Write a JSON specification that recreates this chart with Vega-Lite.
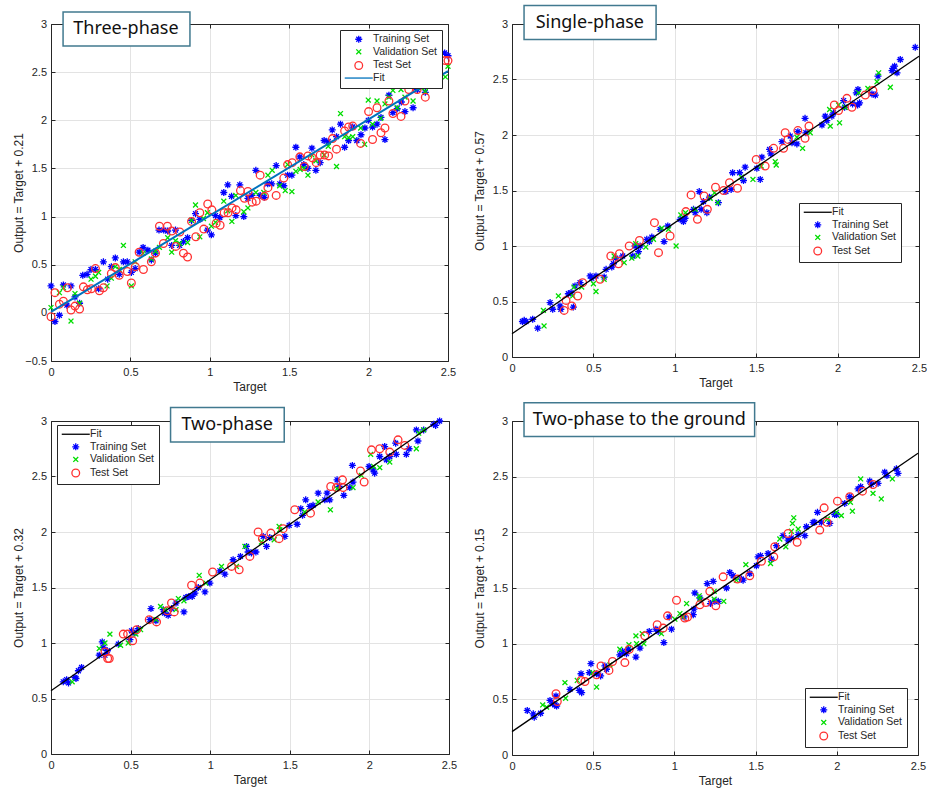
{
"$schema": "https://vega.github.io/schema/vega-lite/v6.json",
"background": "white",
"padding": {"left": 12, "top": 4, "right": 5, "bottom": 5},
"config": {
 "font": "Liberation Sans",
 "view": {"stroke": null},
 "axis": {"labelFont": "Liberation Sans", "labelFontSize": 11, "labelColor": "#262626", "titleFont": "Liberation Sans", "titleFontSize": 12, "titleFontWeight": "normal", "titleColor": "#262626", "gridColor": "#e3e3e3", "gridWidth": 1, "domainColor": "#262626", "domainWidth": 1, "tickColor": "#262626", "tickSize": -4, "tickWidth": 1, "format": "~g", "labelFlush": false, "labelOverlap": false},
 "axisX": {"labelPadding": 9, "titleY": 20},
 "axisY": {"labelPadding": 8.5, "titleX": -26},
 "legend": {"labelFont": "Liberation Sans", "labelFontSize": 10.5, "labelColor": "#262626", "symbolSize": 49, "symbolStrokeWidth": 1.3, "strokeColor": "#262626", "fillColor": "white", "padding": 4, "rowPadding": 0.6, "symbolOffset": 9.5, "labelOffset": 9, "labelLimit": 300, "orient": "none"}
},
"datasets": {
"p1": [
{"set":"Training Set","target":0,"output":0.28},{"set":"Training Set","target":0.025,"output":-0.09},{"set":"Training Set","target":0.053,"output":-0.025},{"set":"Training Set","target":0.078,"output":0.29},{"set":"Training Set","target":0.1,"output":0.08},{"set":"Training Set","target":0.126,"output":0.28},{"set":"Training Set","target":0.151,"output":0.165},{"set":"Training Set","target":0.18,"output":0.1},{"set":"Training Set","target":0.2,"output":0.39},{"set":"Training Set","target":0.227,"output":0.4},{"set":"Training Set","target":0.252,"output":0.45},{"set":"Training Set","target":0.28,"output":0.45},{"set":"Training Set","target":0.3,"output":0.25},{"set":"Training Set","target":0.33,"output":0.53},{"set":"Training Set","target":0.357,"output":0.35},{"set":"Training Set","target":0.38,"output":0.48},{"set":"Training Set","target":0.405,"output":0.57},{"set":"Training Set","target":0.43,"output":0.4},{"set":"Training Set","target":0.456,"output":0.53},{"set":"Training Set","target":0.48,"output":0.53},{"set":"Training Set","target":0.506,"output":0.42},{"set":"Training Set","target":0.53,"output":0.46},{"set":"Training Set","target":0.555,"output":0.63},{"set":"Training Set","target":0.58,"output":0.68},{"set":"Training Set","target":0.61,"output":0.65},{"set":"Training Set","target":0.632,"output":0.55},{"set":"Training Set","target":0.658,"output":0.62},{"set":"Training Set","target":0.68,"output":0.86},{"set":"Training Set","target":0.71,"output":0.86},{"set":"Training Set","target":0.735,"output":0.85},{"set":"Training Set","target":0.76,"output":0.7},{"set":"Training Set","target":0.784,"output":0.86},{"set":"Training Set","target":0.81,"output":0.7},{"set":"Training Set","target":0.834,"output":0.74},{"set":"Training Set","target":0.86,"output":0.78},{"set":"Training Set","target":0.885,"output":0.96},{"set":"Training Set","target":0.91,"output":1.03},{"set":"Training Set","target":0.937,"output":0.97},{"set":"Training Set","target":0.985,"output":0.86},{"set":"Training Set","target":1.01,"output":0.81},{"set":"Training Set","target":1.036,"output":1.01},{"set":"Training Set","target":1.063,"output":0.99},{"set":"Training Set","target":1.088,"output":1.25},{"set":"Training Set","target":1.113,"output":1.33},{"set":"Training Set","target":1.137,"output":1.21},{"set":"Training Set","target":1.164,"output":1.01},{"set":"Training Set","target":1.189,"output":1.33},{"set":"Training Set","target":1.214,"output":1.0},{"set":"Training Set","target":1.24,"output":1.19},{"set":"Training Set","target":1.265,"output":1.22},{"set":"Training Set","target":1.29,"output":1.48},{"set":"Training Set","target":1.317,"output":1.22},{"set":"Training Set","target":1.343,"output":1.2},{"set":"Training Set","target":1.365,"output":1.34},{"set":"Training Set","target":1.39,"output":1.34},{"set":"Training Set","target":1.418,"output":1.53},{"set":"Training Set","target":1.441,"output":1.34},{"set":"Training Set","target":1.466,"output":1.32},{"set":"Training Set","target":1.49,"output":1.43},{"set":"Training Set","target":1.517,"output":1.43},{"set":"Training Set","target":1.542,"output":1.72},{"set":"Training Set","target":1.567,"output":1.62},{"set":"Training Set","target":1.592,"output":1.54},{"set":"Training Set","target":1.618,"output":1.5},{"set":"Training Set","target":1.643,"output":1.71},{"set":"Training Set","target":1.668,"output":1.48},{"set":"Training Set","target":1.695,"output":1.56},{"set":"Training Set","target":1.72,"output":1.79},{"set":"Training Set","target":1.746,"output":1.78},{"set":"Training Set","target":1.771,"output":1.9},{"set":"Training Set","target":1.798,"output":1.83},{"set":"Training Set","target":1.823,"output":1.96},{"set":"Training Set","target":1.849,"output":1.72},{"set":"Training Set","target":1.874,"output":1.79},{"set":"Training Set","target":1.9,"output":1.93},{"set":"Training Set","target":1.926,"output":1.79},{"set":"Training Set","target":1.952,"output":1.85},{"set":"Training Set","target":1.977,"output":1.92},{"set":"Training Set","target":1.998,"output":2.0},{"set":"Training Set","target":2.025,"output":1.93},{"set":"Training Set","target":2.053,"output":1.96},{"set":"Training Set","target":2.078,"output":2.03},{"set":"Training Set","target":2.103,"output":1.8},{"set":"Training Set","target":2.128,"output":2.26},{"set":"Training Set","target":2.153,"output":2.08},{"set":"Training Set","target":2.18,"output":2.12},{"set":"Training Set","target":2.206,"output":2.19},{"set":"Training Set","target":2.229,"output":2.09},{"set":"Training Set","target":2.28,"output":2.13},{"set":"Training Set","target":2.307,"output":2.32},{"set":"Training Set","target":2.357,"output":2.29},{"set":"Training Set","target":2.479,"output":2.7},{"set":"Training Set","target":2.5,"output":2.67},
{"set":"Validation Set","target":0,"output":0.055},{"set":"Validation Set","target":0.053,"output":0.21},{"set":"Validation Set","target":0.078,"output":0.26},{"set":"Validation Set","target":0.126,"output":-0.085},{"set":"Validation Set","target":0.151,"output":0.2},{"set":"Validation Set","target":0.18,"output":0.1},{"set":"Validation Set","target":0.252,"output":0.35},{"set":"Validation Set","target":0.28,"output":0.38},{"set":"Validation Set","target":0.3,"output":0.42},{"set":"Validation Set","target":0.353,"output":0.28},{"set":"Validation Set","target":0.38,"output":0.36},{"set":"Validation Set","target":0.405,"output":0.48},{"set":"Validation Set","target":0.43,"output":0.45},{"set":"Validation Set","target":0.456,"output":0.7},{"set":"Validation Set","target":0.506,"output":0.28},{"set":"Validation Set","target":0.53,"output":0.53},{"set":"Validation Set","target":0.58,"output":0.62},{"set":"Validation Set","target":0.632,"output":0.56},{"set":"Validation Set","target":0.658,"output":0.64},{"set":"Validation Set","target":0.683,"output":0.68},{"set":"Validation Set","target":0.735,"output":0.78},{"set":"Validation Set","target":0.76,"output":0.63},{"set":"Validation Set","target":0.784,"output":0.75},{"set":"Validation Set","target":0.81,"output":0.72},{"set":"Validation Set","target":0.86,"output":0.73},{"set":"Validation Set","target":0.885,"output":0.96},{"set":"Validation Set","target":0.91,"output":1.12},{"set":"Validation Set","target":0.937,"output":0.79},{"set":"Validation Set","target":0.96,"output":0.98},{"set":"Validation Set","target":0.985,"output":1.04},{"set":"Validation Set","target":1.01,"output":0.9},{"set":"Validation Set","target":1.036,"output":0.94},{"set":"Validation Set","target":1.088,"output":1.16},{"set":"Validation Set","target":1.113,"output":1.06},{"set":"Validation Set","target":1.139,"output":0.95},{"set":"Validation Set","target":1.164,"output":1.22},{"set":"Validation Set","target":1.214,"output":1.05},{"set":"Validation Set","target":1.24,"output":1.09},{"set":"Validation Set","target":1.29,"output":1.25},{"set":"Validation Set","target":1.34,"output":1.25},{"set":"Validation Set","target":1.366,"output":1.43},{"set":"Validation Set","target":1.393,"output":1.48},{"set":"Validation Set","target":1.44,"output":1.32},{"set":"Validation Set","target":1.475,"output":1.27},{"set":"Validation Set","target":1.49,"output":1.54},{"set":"Validation Set","target":1.517,"output":1.26},{"set":"Validation Set","target":1.542,"output":1.47},{"set":"Validation Set","target":1.569,"output":1.49},{"set":"Validation Set","target":1.592,"output":1.5},{"set":"Validation Set","target":1.618,"output":1.43},{"set":"Validation Set","target":1.643,"output":1.64},{"set":"Validation Set","target":1.668,"output":1.58},{"set":"Validation Set","target":1.72,"output":1.64},{"set":"Validation Set","target":1.746,"output":1.73},{"set":"Validation Set","target":1.798,"output":1.52},{"set":"Validation Set","target":1.823,"output":2.07},{"set":"Validation Set","target":1.849,"output":1.83},{"set":"Validation Set","target":1.874,"output":1.82},{"set":"Validation Set","target":1.9,"output":1.83},{"set":"Validation Set","target":1.95,"output":1.92},{"set":"Validation Set","target":1.975,"output":1.75},{"set":"Validation Set","target":1.998,"output":2.21},{"set":"Validation Set","target":2.025,"output":1.96},{"set":"Validation Set","target":2.053,"output":2.2},{"set":"Validation Set","target":2.076,"output":2.02},{"set":"Validation Set","target":2.103,"output":2.17},{"set":"Validation Set","target":2.128,"output":2.24},{"set":"Validation Set","target":2.153,"output":2.31},{"set":"Validation Set","target":2.18,"output":2.13},{"set":"Validation Set","target":2.204,"output":2.32},{"set":"Validation Set","target":2.229,"output":2.24},{"set":"Validation Set","target":2.28,"output":2.2},{"set":"Validation Set","target":2.33,"output":2.34},{"set":"Validation Set","target":2.357,"output":2.3},{"set":"Validation Set","target":2.483,"output":2.45},{"set":"Validation Set","target":2.5,"output":2.56},
{"set":"Test Set","target":0,"output":-0.04},{"set":"Test Set","target":0.025,"output":0.21},{"set":"Test Set","target":0.053,"output":0.09},{"set":"Test Set","target":0.078,"output":0.12},{"set":"Test Set","target":0.103,"output":0.26},{"set":"Test Set","target":0.126,"output":0.03},{"set":"Test Set","target":0.151,"output":0.07},{"set":"Test Set","target":0.18,"output":0.04},{"set":"Test Set","target":0.204,"output":0.27},{"set":"Test Set","target":0.229,"output":0.24},{"set":"Test Set","target":0.254,"output":0.25},{"set":"Test Set","target":0.28,"output":0.46},{"set":"Test Set","target":0.305,"output":0.23},{"set":"Test Set","target":0.33,"output":0.26},{"set":"Test Set","target":0.38,"output":0.41},{"set":"Test Set","target":0.405,"output":0.47},{"set":"Test Set","target":0.43,"output":0.39},{"set":"Test Set","target":0.481,"output":0.43},{"set":"Test Set","target":0.506,"output":0.31},{"set":"Test Set","target":0.531,"output":0.48},{"set":"Test Set","target":0.555,"output":0.63},{"set":"Test Set","target":0.582,"output":0.45},{"set":"Test Set","target":0.632,"output":0.53},{"set":"Test Set","target":0.658,"output":0.62},{"set":"Test Set","target":0.683,"output":0.9},{"set":"Test Set","target":0.708,"output":0.72},{"set":"Test Set","target":0.733,"output":0.9},{"set":"Test Set","target":0.76,"output":0.85},{"set":"Test Set","target":0.786,"output":0.69},{"set":"Test Set","target":0.811,"output":0.84},{"set":"Test Set","target":0.834,"output":0.62},{"set":"Test Set","target":0.86,"output":0.58},{"set":"Test Set","target":0.885,"output":0.95},{"set":"Test Set","target":0.912,"output":0.79},{"set":"Test Set","target":0.937,"output":1.04},{"set":"Test Set","target":0.962,"output":0.87},{"set":"Test Set","target":0.987,"output":1.13},{"set":"Test Set","target":1.013,"output":1.07},{"set":"Test Set","target":1.04,"output":0.93},{"set":"Test Set","target":1.065,"output":0.91},{"set":"Test Set","target":1.09,"output":1.04},{"set":"Test Set","target":1.115,"output":1.04},{"set":"Test Set","target":1.14,"output":1.09},{"set":"Test Set","target":1.166,"output":1.07},{"set":"Test Set","target":1.193,"output":1.27},{"set":"Test Set","target":1.218,"output":1.19},{"set":"Test Set","target":1.24,"output":1.26},{"set":"Test Set","target":1.267,"output":1.15},{"set":"Test Set","target":1.292,"output":1.16},{"set":"Test Set","target":1.317,"output":1.43},{"set":"Test Set","target":1.345,"output":1.21},{"set":"Test Set","target":1.366,"output":1.3},{"set":"Test Set","target":1.418,"output":1.22},{"set":"Test Set","target":1.466,"output":1.4},{"set":"Test Set","target":1.49,"output":1.54},{"set":"Test Set","target":1.519,"output":1.56},{"set":"Test Set","target":1.567,"output":1.62},{"set":"Test Set","target":1.595,"output":1.52},{"set":"Test Set","target":1.618,"output":1.63},{"set":"Test Set","target":1.645,"output":1.61},{"set":"Test Set","target":1.67,"output":1.56},{"set":"Test Set","target":1.695,"output":1.64},{"set":"Test Set","target":1.723,"output":1.64},{"set":"Test Set","target":1.748,"output":1.63},{"set":"Test Set","target":1.773,"output":1.81},{"set":"Test Set","target":1.798,"output":1.7},{"set":"Test Set","target":1.849,"output":1.89},{"set":"Test Set","target":1.874,"output":1.93},{"set":"Test Set","target":1.9,"output":1.94},{"set":"Test Set","target":1.95,"output":1.76},{"set":"Test Set","target":2.0,"output":2.09},{"set":"Test Set","target":2.025,"output":1.8},{"set":"Test Set","target":2.053,"output":2.13},{"set":"Test Set","target":2.078,"output":1.87},{"set":"Test Set","target":2.103,"output":1.92},{"set":"Test Set","target":2.128,"output":2.2},{"set":"Test Set","target":2.153,"output":2.07},{"set":"Test Set","target":2.204,"output":2.04},{"set":"Test Set","target":2.229,"output":2.2},{"set":"Test Set","target":2.253,"output":2.32},{"set":"Test Set","target":2.306,"output":2.32},{"set":"Test Set","target":2.357,"output":2.24},{"set":"Test Set","target":2.483,"output":2.62},{"set":"Test Set","target":2.5,"output":2.62},
{"set":"Fit","target":0,"output":0.01},{"set":"Fit","target":2.5,"output":2.51}
],
"p2": [
{"set":"Training Set","target":0.064,"output":0.32},{"set":"Training Set","target":0.075,"output":0.33},{"set":"Training Set","target":0.086,"output":0.32},{"set":"Training Set","target":0.127,"output":0.34},{"set":"Training Set","target":0.158,"output":0.26},{"set":"Training Set","target":0.234,"output":0.49},{"set":"Training Set","target":0.25,"output":0.43},{"set":"Training Set","target":0.295,"output":0.46},{"set":"Training Set","target":0.3,"output":0.43},{"set":"Training Set","target":0.346,"output":0.57},{"set":"Training Set","target":0.363,"output":0.58},{"set":"Training Set","target":0.377,"output":0.45},{"set":"Training Set","target":0.387,"output":0.64},{"set":"Training Set","target":0.418,"output":0.67},{"set":"Training Set","target":0.48,"output":0.73},{"set":"Training Set","target":0.49,"output":0.71},{"set":"Training Set","target":0.516,"output":0.73},{"set":"Training Set","target":0.566,"output":0.72},{"set":"Training Set","target":0.578,"output":0.79},{"set":"Training Set","target":0.613,"output":0.81},{"set":"Training Set","target":0.623,"output":0.84},{"set":"Training Set","target":0.637,"output":0.89},{"set":"Training Set","target":0.68,"output":0.91},{"set":"Training Set","target":0.742,"output":0.91},{"set":"Training Set","target":0.756,"output":1.0},{"set":"Training Set","target":0.777,"output":0.95},{"set":"Training Set","target":0.787,"output":1.0},{"set":"Training Set","target":0.828,"output":1.06},{"set":"Training Set","target":0.844,"output":1.04},{"set":"Training Set","target":0.859,"output":1.08},{"set":"Training Set","target":0.91,"output":1.15},{"set":"Training Set","target":0.934,"output":1.04},{"set":"Training Set","target":0.957,"output":1.18},{"set":"Training Set","target":1.033,"output":1.24},{"set":"Training Set","target":1.053,"output":1.22},{"set":"Training Set","target":1.063,"output":1.25},{"set":"Training Set","target":1.115,"output":1.33},{"set":"Training Set","target":1.125,"output":1.3},{"set":"Training Set","target":1.15,"output":1.49},{"set":"Training Set","target":1.162,"output":1.33},{"set":"Training Set","target":1.176,"output":1.4},{"set":"Training Set","target":1.197,"output":1.3},{"set":"Training Set","target":1.213,"output":1.44},{"set":"Training Set","target":1.268,"output":1.39},{"set":"Training Set","target":1.314,"output":1.49},{"set":"Training Set","target":1.346,"output":1.51},{"set":"Training Set","target":1.355,"output":1.66},{"set":"Training Set","target":1.398,"output":1.66},{"set":"Training Set","target":1.422,"output":1.59},{"set":"Training Set","target":1.432,"output":1.71},{"set":"Training Set","target":1.504,"output":1.7},{"set":"Training Set","target":1.525,"output":1.6},{"set":"Training Set","target":1.535,"output":1.8},{"set":"Training Set","target":1.582,"output":1.87},{"set":"Training Set","target":1.59,"output":1.83},{"set":"Training Set","target":1.658,"output":1.94},{"set":"Training Set","target":1.709,"output":1.99},{"set":"Training Set","target":1.72,"output":1.93},{"set":"Training Set","target":1.75,"output":1.92},{"set":"Training Set","target":1.756,"output":2.03},{"set":"Training Set","target":1.8,"output":2.15},{"set":"Training Set","target":1.805,"output":2.02},{"set":"Training Set","target":1.904,"output":2.09},{"set":"Training Set","target":1.924,"output":2.17},{"set":"Training Set","target":1.934,"output":2.13},{"set":"Training Set","target":1.965,"output":2.17},{"set":"Training Set","target":1.975,"output":2.2},{"set":"Training Set","target":2.037,"output":2.31},{"set":"Training Set","target":2.043,"output":2.25},{"set":"Training Set","target":2.092,"output":2.28},{"set":"Training Set","target":2.115,"output":2.38},{"set":"Training Set","target":2.125,"output":2.41},{"set":"Training Set","target":2.123,"output":2.27},{"set":"Training Set","target":2.135,"output":2.29},{"set":"Training Set","target":2.211,"output":2.37},{"set":"Training Set","target":2.232,"output":2.36},{"set":"Training Set","target":2.248,"output":2.53},{"set":"Training Set","target":2.334,"output":2.58},{"set":"Training Set","target":2.34,"output":2.6},{"set":"Training Set","target":2.35,"output":2.62},{"set":"Training Set","target":2.365,"output":2.56},{"set":"Training Set","target":2.385,"output":2.68},{"set":"Training Set","target":2.477,"output":2.79},
{"set":"Validation Set","target":0.197,"output":0.28},{"set":"Validation Set","target":0.193,"output":0.42},{"set":"Validation Set","target":0.285,"output":0.55},{"set":"Validation Set","target":0.373,"output":0.55},{"set":"Validation Set","target":0.381,"output":0.63},{"set":"Validation Set","target":0.428,"output":0.63},{"set":"Validation Set","target":0.5,"output":0.66},{"set":"Validation Set","target":0.516,"output":0.59},{"set":"Validation Set","target":0.566,"output":0.7},{"set":"Validation Set","target":0.627,"output":0.91},{"set":"Validation Set","target":0.689,"output":0.85},{"set":"Validation Set","target":0.736,"output":0.89},{"set":"Validation Set","target":0.76,"output":1.02},{"set":"Validation Set","target":0.773,"output":0.91},{"set":"Validation Set","target":0.822,"output":0.99},{"set":"Validation Set","target":0.869,"output":1.06},{"set":"Validation Set","target":0.92,"output":1.16},{"set":"Validation Set","target":0.961,"output":1.15},{"set":"Validation Set","target":1.008,"output":1.0},{"set":"Validation Set","target":1.037,"output":1.28},{"set":"Validation Set","target":1.066,"output":1.3},{"set":"Validation Set","target":1.125,"output":1.33},{"set":"Validation Set","target":1.217,"output":1.43},{"set":"Validation Set","target":1.244,"output":1.48},{"set":"Validation Set","target":1.264,"output":1.39},{"set":"Validation Set","target":1.41,"output":1.62},{"set":"Validation Set","target":1.48,"output":1.6},{"set":"Validation Set","target":1.531,"output":1.72},{"set":"Validation Set","target":1.617,"output":1.76},{"set":"Validation Set","target":1.623,"output":1.73},{"set":"Validation Set","target":1.75,"output":1.98},{"set":"Validation Set","target":1.785,"output":1.88},{"set":"Validation Set","target":1.832,"output":2.02},{"set":"Validation Set","target":1.951,"output":2.23},{"set":"Validation Set","target":1.955,"output":2.08},{"set":"Validation Set","target":2.006,"output":2.27},{"set":"Validation Set","target":2.012,"output":2.11},{"set":"Validation Set","target":2.047,"output":2.25},{"set":"Validation Set","target":2.129,"output":2.38},{"set":"Validation Set","target":2.186,"output":2.42},{"set":"Validation Set","target":2.242,"output":2.48},{"set":"Validation Set","target":2.252,"output":2.56},{"set":"Validation Set","target":2.324,"output":2.43},
{"set":"Test Set","target":0.32,"output":0.42},{"set":"Test Set","target":0.332,"output":0.51},{"set":"Test Set","target":0.367,"output":0.46},{"set":"Test Set","target":0.404,"output":0.55},{"set":"Test Set","target":0.434,"output":0.67},{"set":"Test Set","target":0.541,"output":0.7},{"set":"Test Set","target":0.607,"output":0.91},{"set":"Test Set","target":0.654,"output":0.84},{"set":"Test Set","target":0.66,"output":0.93},{"set":"Test Set","target":0.72,"output":1.0},{"set":"Test Set","target":0.783,"output":1.05},{"set":"Test Set","target":0.875,"output":1.21},{"set":"Test Set","target":0.9,"output":0.94},{"set":"Test Set","target":0.971,"output":1.09},{"set":"Test Set","target":1.068,"output":1.31},{"set":"Test Set","target":1.1,"output":1.46},{"set":"Test Set","target":1.139,"output":1.24},{"set":"Test Set","target":1.18,"output":1.45},{"set":"Test Set","target":1.2,"output":1.33},{"set":"Test Set","target":1.25,"output":1.53},{"set":"Test Set","target":1.3,"output":1.5},{"set":"Test Set","target":1.336,"output":1.57},{"set":"Test Set","target":1.385,"output":1.52},{"set":"Test Set","target":1.5,"output":1.78},{"set":"Test Set","target":1.555,"output":1.72},{"set":"Test Set","target":1.607,"output":1.88},{"set":"Test Set","target":1.668,"output":1.88},{"set":"Test Set","target":1.678,"output":2.02},{"set":"Test Set","target":1.695,"output":1.96},{"set":"Test Set","target":1.756,"output":2.04},{"set":"Test Set","target":1.8,"output":1.97},{"set":"Test Set","target":1.824,"output":2.08},{"set":"Test Set","target":1.98,"output":2.27},{"set":"Test Set","target":2.006,"output":2.22},{"set":"Test Set","target":2.057,"output":2.33},{"set":"Test Set","target":2.088,"output":2.25},{"set":"Test Set","target":2.17,"output":2.36},{"set":"Test Set","target":2.217,"output":2.4},
{"set":"Fit","target":0,"output":0.21},{"set":"Fit","target":2.5,"output":2.71}
],
"p3": [
{"set":"Training Set","target":0.077,"output":0.65},{"set":"Training Set","target":0.098,"output":0.67},{"set":"Training Set","target":0.11,"output":0.64},{"set":"Training Set","target":0.15,"output":0.69},{"set":"Training Set","target":0.157,"output":0.68},{"set":"Training Set","target":0.172,"output":0.75},{"set":"Training Set","target":0.192,"output":0.78},{"set":"Training Set","target":0.303,"output":0.89},{"set":"Training Set","target":0.322,"output":1.01},{"set":"Training Set","target":0.328,"output":0.96},{"set":"Training Set","target":0.339,"output":0.89},{"set":"Training Set","target":0.354,"output":0.93},{"set":"Training Set","target":0.423,"output":0.99},{"set":"Training Set","target":0.496,"output":1.03},{"set":"Training Set","target":0.506,"output":1.11},{"set":"Training Set","target":0.527,"output":1.09},{"set":"Training Set","target":0.548,"output":1.13},{"set":"Training Set","target":0.621,"output":1.21},{"set":"Training Set","target":0.628,"output":1.31},{"set":"Training Set","target":0.659,"output":1.2},{"set":"Training Set","target":0.705,"output":1.3},{"set":"Training Set","target":0.713,"output":1.27},{"set":"Training Set","target":0.736,"output":1.25},{"set":"Training Set","target":0.757,"output":1.31},{"set":"Training Set","target":0.785,"output":1.36},{"set":"Training Set","target":0.835,"output":1.28},{"set":"Training Set","target":0.847,"output":1.41},{"set":"Training Set","target":0.866,"output":1.42},{"set":"Training Set","target":0.887,"output":1.42},{"set":"Training Set","target":0.904,"output":1.45},{"set":"Training Set","target":0.925,"output":1.5},{"set":"Training Set","target":0.967,"output":1.46},{"set":"Training Set","target":0.998,"output":1.54},{"set":"Training Set","target":1.061,"output":1.65},{"set":"Training Set","target":1.092,"output":1.62},{"set":"Training Set","target":1.144,"output":1.75},{"set":"Training Set","target":1.19,"output":1.78},{"set":"Training Set","target":1.228,"output":1.87},{"set":"Training Set","target":1.238,"output":1.82},{"set":"Training Set","target":1.259,"output":1.81},{"set":"Training Set","target":1.287,"output":1.82},{"set":"Training Set","target":1.333,"output":1.96},{"set":"Training Set","target":1.354,"output":1.87},{"set":"Training Set","target":1.374,"output":1.95},{"set":"Training Set","target":1.469,"output":1.96},{"set":"Training Set","target":1.496,"output":2.06},{"set":"Training Set","target":1.546,"output":2.07},{"set":"Training Set","target":1.569,"output":2.21},{"set":"Training Set","target":1.58,"output":2.15},{"set":"Training Set","target":1.6,"output":2.29},{"set":"Training Set","target":1.626,"output":2.23},{"set":"Training Set","target":1.646,"output":2.24},{"set":"Training Set","target":1.678,"output":2.35},{"set":"Training Set","target":1.72,"output":2.29},{"set":"Training Set","target":1.734,"output":2.35},{"set":"Training Set","target":1.751,"output":2.29},{"set":"Training Set","target":1.797,"output":2.47},{"set":"Training Set","target":1.81,"output":2.41},{"set":"Training Set","target":1.839,"output":2.33},{"set":"Training Set","target":1.877,"output":2.4},{"set":"Training Set","target":1.893,"output":2.6},{"set":"Training Set","target":1.897,"output":2.45},{"set":"Training Set","target":1.998,"output":2.59},{"set":"Training Set","target":2.023,"output":2.56},{"set":"Training Set","target":2.033,"output":2.53},{"set":"Training Set","target":2.065,"output":2.68},{"set":"Training Set","target":2.096,"output":2.77},{"set":"Training Set","target":2.107,"output":2.65},{"set":"Training Set","target":2.128,"output":2.68},{"set":"Training Set","target":2.165,"output":2.8},{"set":"Training Set","target":2.169,"output":2.7},{"set":"Training Set","target":2.232,"output":2.7},{"set":"Training Set","target":2.249,"output":2.75},{"set":"Training Set","target":2.295,"output":2.92},{"set":"Training Set","target":2.305,"output":2.82},{"set":"Training Set","target":2.341,"output":2.92},{"set":"Training Set","target":2.404,"output":2.97},{"set":"Training Set","target":2.416,"output":2.96},{"set":"Training Set","target":2.441,"output":3.0},
{"set":"Validation Set","target":0.133,"output":0.65},{"set":"Validation Set","target":0.303,"output":0.95},{"set":"Validation Set","target":0.339,"output":1.0},{"set":"Validation Set","target":0.37,"output":1.08},{"set":"Validation Set","target":0.437,"output":0.98},{"set":"Validation Set","target":0.485,"output":1.0},{"set":"Validation Set","target":0.533,"output":1.08},{"set":"Validation Set","target":0.563,"output":1.12},{"set":"Validation Set","target":0.659,"output":1.21},{"set":"Validation Set","target":0.688,"output":1.33},{"set":"Validation Set","target":0.718,"output":1.3},{"set":"Validation Set","target":0.785,"output":1.3},{"set":"Validation Set","target":0.8,"output":1.4},{"set":"Validation Set","target":0.835,"output":1.38},{"set":"Validation Set","target":0.931,"output":1.61},{"set":"Validation Set","target":0.973,"output":1.54},{"set":"Validation Set","target":1.071,"output":1.69},{"set":"Validation Set","target":1.165,"output":1.69},{"set":"Validation Set","target":1.218,"output":1.87},{"set":"Validation Set","target":1.322,"output":1.91},{"set":"Validation Set","target":1.402,"output":1.93},{"set":"Validation Set","target":1.433,"output":2.05},{"set":"Validation Set","target":1.437,"output":2.02},{"set":"Validation Set","target":1.594,"output":2.18},{"set":"Validation Set","target":1.678,"output":2.27},{"set":"Validation Set","target":1.755,"output":2.2},{"set":"Validation Set","target":1.797,"output":2.39},{"set":"Validation Set","target":1.897,"output":2.4},{"set":"Validation Set","target":1.95,"output":2.51},{"set":"Validation Set","target":2.008,"output":2.7},{"set":"Validation Set","target":2.027,"output":2.59},{"set":"Validation Set","target":2.065,"output":2.58},{"set":"Validation Set","target":2.128,"output":2.63},{"set":"Validation Set","target":2.295,"output":2.75},{"set":"Validation Set","target":2.31,"output":2.89},{"set":"Validation Set","target":2.341,"output":2.92},
{"set":"Test Set","target":0.339,"output":0.92},{"set":"Test Set","target":0.356,"output":0.86},{"set":"Test Set","target":0.366,"output":0.86},{"set":"Test Set","target":0.454,"output":1.08},{"set":"Test Set","target":0.481,"output":1.08},{"set":"Test Set","target":0.513,"output":1.02},{"set":"Test Set","target":0.538,"output":1.12},{"set":"Test Set","target":0.617,"output":1.21},{"set":"Test Set","target":0.663,"output":1.19},{"set":"Test Set","target":0.73,"output":1.29},{"set":"Test Set","target":0.757,"output":1.36},{"set":"Test Set","target":0.774,"output":1.28},{"set":"Test Set","target":0.883,"output":1.52},{"set":"Test Set","target":0.935,"output":1.54},{"set":"Test Set","target":1.015,"output":1.64},{"set":"Test Set","target":1.134,"output":1.69},{"set":"Test Set","target":1.182,"output":1.66},{"set":"Test Set","target":1.249,"output":1.78},{"set":"Test Set","target":1.301,"output":2.0},{"set":"Test Set","target":1.328,"output":1.94},{"set":"Test Set","target":1.381,"output":1.99},{"set":"Test Set","target":1.433,"output":1.94},{"set":"Test Set","target":1.458,"output":2.03},{"set":"Test Set","target":1.531,"output":2.2},{"set":"Test Set","target":1.63,"output":2.17},{"set":"Test Set","target":1.757,"output":2.41},{"set":"Test Set","target":1.793,"output":2.4},{"set":"Test Set","target":1.831,"output":2.47},{"set":"Test Set","target":1.835,"output":2.4},{"set":"Test Set","target":1.944,"output":2.55},{"set":"Test Set","target":1.967,"output":2.45},{"set":"Test Set","target":2.013,"output":2.74},{"set":"Test Set","target":2.065,"output":2.75},{"set":"Test Set","target":2.128,"output":2.72},{"set":"Test Set","target":2.18,"output":2.83},{"set":"Test Set","target":2.222,"output":2.78},
{"set":"Fit","target":0,"output":0.57},{"set":"Fit","target":2.43,"output":3.0}
],
"p4": [
{"set":"Training Set","target":0.094,"output":0.4},{"set":"Training Set","target":0.131,"output":0.37},{"set":"Training Set","target":0.137,"output":0.34},{"set":"Training Set","target":0.176,"output":0.375},{"set":"Training Set","target":0.234,"output":0.49},{"set":"Training Set","target":0.25,"output":0.46},{"set":"Training Set","target":0.265,"output":0.45},{"set":"Training Set","target":0.271,"output":0.53},{"set":"Training Set","target":0.275,"output":0.44},{"set":"Training Set","target":0.357,"output":0.59},{"set":"Training Set","target":0.425,"output":0.73},{"set":"Training Set","target":0.414,"output":0.58},{"set":"Training Set","target":0.429,"output":0.56},{"set":"Training Set","target":0.486,"output":0.82},{"set":"Training Set","target":0.476,"output":0.74},{"set":"Training Set","target":0.521,"output":0.73},{"set":"Training Set","target":0.546,"output":0.71},{"set":"Training Set","target":0.572,"output":0.8},{"set":"Training Set","target":0.582,"output":0.77},{"set":"Training Set","target":0.664,"output":0.9},{"set":"Training Set","target":0.681,"output":0.93},{"set":"Training Set","target":0.705,"output":0.91},{"set":"Training Set","target":0.716,"output":0.95},{"set":"Training Set","target":0.763,"output":0.88},{"set":"Training Set","target":0.788,"output":0.96},{"set":"Training Set","target":0.845,"output":1.11},{"set":"Training Set","target":0.886,"output":1.13},{"set":"Training Set","target":0.9,"output":1.11},{"set":"Training Set","target":0.935,"output":1.01},{"set":"Training Set","target":0.968,"output":1.24},{"set":"Training Set","target":0.982,"output":1.13},{"set":"Training Set","target":1.06,"output":1.24},{"set":"Training Set","target":1.116,"output":1.26},{"set":"Training Set","target":1.12,"output":1.31},{"set":"Training Set","target":1.126,"output":1.455},{"set":"Training Set","target":1.157,"output":1.41},{"set":"Training Set","target":1.202,"output":1.54},{"set":"Training Set","target":1.222,"output":1.36},{"set":"Training Set","target":1.239,"output":1.56},{"set":"Training Set","target":1.249,"output":1.38},{"set":"Training Set","target":1.27,"output":1.38},{"set":"Training Set","target":1.321,"output":1.5},{"set":"Training Set","target":1.341,"output":1.64},{"set":"Training Set","target":1.362,"output":1.61},{"set":"Training Set","target":1.413,"output":1.58},{"set":"Training Set","target":1.423,"output":1.57},{"set":"Training Set","target":1.464,"output":1.63},{"set":"Training Set","target":1.505,"output":1.7},{"set":"Training Set","target":1.515,"output":1.78},{"set":"Training Set","target":1.53,"output":1.79},{"set":"Training Set","target":1.577,"output":1.81},{"set":"Training Set","target":1.598,"output":1.76},{"set":"Training Set","target":1.628,"output":1.88},{"set":"Training Set","target":1.669,"output":1.97},{"set":"Training Set","target":1.7,"output":1.93},{"set":"Training Set","target":1.72,"output":1.95},{"set":"Training Set","target":1.762,"output":1.98},{"set":"Training Set","target":1.803,"output":1.97},{"set":"Training Set","target":1.813,"output":2.05},{"set":"Training Set","target":1.854,"output":2.09},{"set":"Training Set","target":1.864,"output":2.09},{"set":"Training Set","target":1.881,"output":2.18},{"set":"Training Set","target":1.905,"output":2.09},{"set":"Training Set","target":1.957,"output":2.08},{"set":"Training Set","target":1.987,"output":2.16},{"set":"Training Set","target":1.998,"output":2.16},{"set":"Training Set","target":2.049,"output":2.26},{"set":"Training Set","target":2.08,"output":2.32},{"set":"Training Set","target":2.131,"output":2.39},{"set":"Training Set","target":2.147,"output":2.41},{"set":"Training Set","target":2.203,"output":2.46},{"set":"Training Set","target":2.213,"output":2.43},{"set":"Training Set","target":2.254,"output":2.44},{"set":"Training Set","target":2.295,"output":2.54},{"set":"Training Set","target":2.309,"output":2.51},{"set":"Training Set","target":2.367,"output":2.57},{"set":"Training Set","target":2.377,"output":2.53},
{"set":"Validation Set","target":0.189,"output":0.45},{"set":"Validation Set","target":0.213,"output":0.43},{"set":"Validation Set","target":0.326,"output":0.65},{"set":"Validation Set","target":0.33,"output":0.51},{"set":"Validation Set","target":0.402,"output":0.67},{"set":"Validation Set","target":0.496,"output":0.74},{"set":"Validation Set","target":0.521,"output":0.61},{"set":"Validation Set","target":0.603,"output":0.81},{"set":"Validation Set","target":0.664,"output":0.95},{"set":"Validation Set","target":0.72,"output":0.99},{"set":"Validation Set","target":0.763,"output":1.07},{"set":"Validation Set","target":0.767,"output":1.0},{"set":"Validation Set","target":0.802,"output":1.09},{"set":"Validation Set","target":0.812,"output":1.0},{"set":"Validation Set","target":0.92,"output":1.09},{"set":"Validation Set","target":1.003,"output":1.22},{"set":"Validation Set","target":1.034,"output":1.27},{"set":"Validation Set","target":1.054,"output":1.24},{"set":"Validation Set","target":1.075,"output":1.36},{"set":"Validation Set","target":1.157,"output":1.4},{"set":"Validation Set","target":1.153,"output":1.43},{"set":"Validation Set","target":1.245,"output":1.4},{"set":"Validation Set","target":1.245,"output":1.47},{"set":"Validation Set","target":1.304,"output":1.38},{"set":"Validation Set","target":1.382,"output":1.57},{"set":"Validation Set","target":1.44,"output":1.71},{"set":"Validation Set","target":1.592,"output":1.72},{"set":"Validation Set","target":1.649,"output":1.94},{"set":"Validation Set","target":1.686,"output":1.87},{"set":"Validation Set","target":1.72,"output":2.01},{"set":"Validation Set","target":1.727,"output":2.08},{"set":"Validation Set","target":1.735,"output":2.13},{"set":"Validation Set","target":1.762,"output":2.03},{"set":"Validation Set","target":1.942,"output":2.12},{"set":"Validation Set","target":1.998,"output":2.18},{"set":"Validation Set","target":2.028,"output":2.15},{"set":"Validation Set","target":2.084,"output":2.27},{"set":"Validation Set","target":2.096,"output":2.19},{"set":"Validation Set","target":2.147,"output":2.48},{"set":"Validation Set","target":2.223,"output":2.35},{"set":"Validation Set","target":2.274,"output":2.3},{"set":"Validation Set","target":2.342,"output":2.48},
{"set":"Test Set","target":0.271,"output":0.55},{"set":"Test Set","target":0.279,"output":0.48},{"set":"Test Set","target":0.425,"output":0.67},{"set":"Test Set","target":0.449,"output":0.66},{"set":"Test Set","target":0.521,"output":0.72},{"set":"Test Set","target":0.548,"output":0.8},{"set":"Test Set","target":0.597,"output":0.76},{"set":"Test Set","target":0.619,"output":0.84},{"set":"Test Set","target":0.695,"output":0.83},{"set":"Test Set","target":0.722,"output":0.95},{"set":"Test Set","target":0.818,"output":1.07},{"set":"Test Set","target":0.894,"output":1.17},{"set":"Test Set","target":0.931,"output":1.14},{"set":"Test Set","target":0.958,"output":1.25},{"set":"Test Set","target":1.013,"output":1.39},{"set":"Test Set","target":1.064,"output":1.23},{"set":"Test Set","target":1.081,"output":1.24},{"set":"Test Set","target":1.157,"output":1.35},{"set":"Test Set","target":1.194,"output":1.37},{"set":"Test Set","target":1.255,"output":1.34},{"set":"Test Set","target":1.218,"output":1.47},{"set":"Test Set","target":1.3,"output":1.6},{"set":"Test Set","target":1.388,"output":1.58},{"set":"Test Set","target":1.464,"output":1.61},{"set":"Test Set","target":1.536,"output":1.74},{"set":"Test Set","target":1.612,"output":1.78},{"set":"Test Set","target":1.618,"output":1.87},{"set":"Test Set","target":1.7,"output":1.99},{"set":"Test Set","target":1.756,"output":1.91},{"set":"Test Set","target":1.895,"output":2.02},{"set":"Test Set","target":1.922,"output":2.22},{"set":"Test Set","target":1.94,"output":2.09},{"set":"Test Set","target":2.004,"output":2.28},{"set":"Test Set","target":2.08,"output":2.32},{"set":"Test Set","target":2.158,"output":2.37},{"set":"Test Set","target":2.223,"output":2.43},
{"set":"Fit","target":0,"output":0.21},{"set":"Fit","target":2.5,"output":2.71}
]
},
"columns": 2,
"bounds": "flush",
"spacing": {"row": 60, "column": 63},
"concat": [
{
 "width": 397, "height": 337,
 "layer": [
  {"data": {"name": "p1"}, "transform": [{"filter": "datum.set !== 'Fit'"}],
   "mark": {"type": "point", "filled": false, "size": 49, "strokeWidth": 1.3, "opacity": 1},
   "encoding": {
    "x": {"field": "target", "type": "quantitative", "scale": {"domain": [0, 2.5], "nice": false, "zero": false}, "axis": {"orient": "bottom", "values": [0,0.5,1,1.5,2,2.5], "title": "Target"}},
    "y": {"field": "output", "type": "quantitative", "scale": {"domain": [-0.5, 3], "nice": false, "zero": false}, "axis": {"orient": "left", "values": [-0.5,0,0.5,1,1.5,2,2.5,3], "title": "Output = Target + 0.21"}},
    "color": {"field": "set", "type": "nominal", "scale": {"domain": ["Training Set","Validation Set","Test Set","Fit"], "range": ["#0000FF","#00DD00","#FF3030","#0072BD"]}, "legend": {"title": null, "orient": "none", "legendX": 289, "legendY": 6, "encode": {"symbols": {"update": {"strokeWidth": {"signal": "datum.value === 'Fit' ? 2.2 : 1.3"}}}}}},
    "shape": {"field": "set", "type": "nominal", "scale": {"domain": ["Training Set","Validation Set","Test Set","Fit"], "range": ["M-1,0H1M0,-1V1M-0.7,-0.7L0.7,0.7M-0.7,0.7L0.7,-0.7","M-0.7,-0.7L0.7,0.7M-0.7,0.7L0.7,-0.7","M1.1,0A1.1,1.1,0,1,1,-1.1,0A1.1,1.1,0,1,1,1.1,0Z","M-4,0H4"]}, "legend": {"title": null, "orient": "none", "legendX": 289, "legendY": 6}}
   }},
  {"data": {"name": "p1"}, "transform": [{"filter": "datum.set === 'Fit'"}],
   "mark": {"type": "line", "color": "#0072BD", "strokeWidth": 2},
   "encoding": {
    "x": {"field": "target", "type": "quantitative", "axis": {"orient": "top", "values": [0,0.5,1,1.5,2,2.5], "labels": false, "grid": false, "title": null}},
    "y": {"field": "output", "type": "quantitative", "axis": {"orient": "right", "values": [-0.5,0,0.5,1,1.5,2,2.5,3], "labels": false, "grid": false, "title": null}}
   }},
  {"data": {"values": [{"title": "Three-phase"}]},
   "mark": {"type": "rect", "fill": "white", "stroke": "#41798F", "strokeWidth": 1.5},
   "encoding": {"x": {"datum": 0.076, "type": "quantitative", "axis": null}, "x2": {"datum": 0.875}, "y": {"datum": 3.125, "type": "quantitative", "axis": null}, "y2": {"datum": 2.771}}},
  {"data": {"values": [{"title": "Three-phase"}]},
   "mark": {"type": "text", "font": "Noto Sans", "fontSize": 18, "color": "#111111", "align": "center", "baseline": "middle"},
   "encoding": {"x": {"datum": 0.472, "type": "quantitative", "axis": null}, "y": {"datum": 2.948, "type": "quantitative", "axis": null}, "text": {"field": "title"}}}
 ],
 "resolve": {"axis": {"x": "independent", "y": "independent"}}
},
{
 "width": 407, "height": 333,
 "layer": [
  {"data": {"name": "p2"}, "transform": [{"filter": "datum.set !== 'Fit'"}],
   "mark": {"type": "point", "filled": false, "size": 49, "strokeWidth": 1.3, "opacity": 1},
   "encoding": {
    "x": {"field": "target", "type": "quantitative", "scale": {"domain": [0, 2.5], "nice": false, "zero": false}, "axis": {"orient": "bottom", "values": [0,0.5,1,1.5,2,2.5], "title": "Target"}},
    "y": {"field": "output", "type": "quantitative", "scale": {"domain": [0, 3], "nice": false, "zero": false}, "axis": {"orient": "left", "values": [0,0.5,1,1.5,2,2.5,3], "title": "Output = Target + 0.57"}},
    "color": {"field": "set", "type": "nominal", "scale": {"domain": ["Fit","Training Set","Validation Set","Test Set"], "range": ["#000000","#0000FF","#00DD00","#FF3030"]}, "legend": {"title": null, "orient": "none", "legendX": 287, "legendY": 179, "encode": {"symbols": {"update": {"strokeWidth": {"signal": "datum.value === 'Fit' ? 1.6 : 1.3"}}}}}},
    "shape": {"field": "set", "type": "nominal", "scale": {"domain": ["Fit","Training Set","Validation Set","Test Set"], "range": ["M-4,0H4","M-1,0H1M0,-1V1M-0.7,-0.7L0.7,0.7M-0.7,0.7L0.7,-0.7","M-0.7,-0.7L0.7,0.7M-0.7,0.7L0.7,-0.7","M1.1,0A1.1,1.1,0,1,1,-1.1,0A1.1,1.1,0,1,1,1.1,0Z"]}, "legend": {"title": null, "orient": "none", "legendX": 287, "legendY": 179}}
   }},
  {"data": {"name": "p2"}, "transform": [{"filter": "datum.set === 'Fit'"}],
   "mark": {"type": "line", "color": "#000000", "strokeWidth": 1.3},
   "encoding": {
    "x": {"field": "target", "type": "quantitative", "axis": {"orient": "top", "values": [0,0.5,1,1.5,2,2.5], "labels": false, "grid": false, "title": null}},
    "y": {"field": "output", "type": "quantitative", "axis": {"orient": "right", "values": [0,0.5,1,1.5,2,2.5,3], "labels": false, "grid": false, "title": null}}
   }},
  {"data": {"values": [{"title": "Single-phase"}]},
   "mark": {"type": "rect", "fill": "white", "stroke": "#41798F", "strokeWidth": 1.5},
   "encoding": {"x": {"datum": 0.074, "type": "quantitative", "axis": null}, "x2": {"datum": 0.885}, "y": {"datum": 3.166, "type": "quantitative", "axis": null}, "y2": {"datum": 2.86}}},
  {"data": {"values": [{"title": "Single-phase"}]},
   "mark": {"type": "text", "font": "Noto Sans", "fontSize": 18, "color": "#111111", "align": "center", "baseline": "middle"},
   "encoding": {"x": {"datum": 0.478, "type": "quantitative", "axis": null}, "y": {"datum": 3.013, "type": "quantitative", "axis": null}, "text": {"field": "title"}}}
 ],
 "resolve": {"axis": {"x": "independent", "y": "independent"}}
},
{
 "width": 398, "height": 333,
 "layer": [
  {"data": {"name": "p3"}, "transform": [{"filter": "datum.set !== 'Fit'"}],
   "mark": {"type": "point", "filled": false, "size": 49, "strokeWidth": 1.3, "opacity": 1},
   "encoding": {
    "x": {"field": "target", "type": "quantitative", "scale": {"domain": [0, 2.5], "nice": false, "zero": false}, "axis": {"orient": "bottom", "values": [0,0.5,1,1.5,2,2.5], "title": "Target"}},
    "y": {"field": "output", "type": "quantitative", "scale": {"domain": [0, 3], "nice": false, "zero": false}, "axis": {"orient": "left", "values": [0,0.5,1,1.5,2,2.5,3], "title": "Output = Target + 0.32"}},
    "color": {"field": "set", "type": "nominal", "scale": {"domain": ["Fit","Training Set","Validation Set","Test Set"], "range": ["#000000","#0000FF","#00DD00","#FF3030"]}, "legend": {"title": null, "orient": "none", "legendX": 6, "legendY": 4, "encode": {"symbols": {"update": {"strokeWidth": {"signal": "datum.value === 'Fit' ? 1.6 : 1.3"}}}}}},
    "shape": {"field": "set", "type": "nominal", "scale": {"domain": ["Fit","Training Set","Validation Set","Test Set"], "range": ["M-4,0H4","M-1,0H1M0,-1V1M-0.7,-0.7L0.7,0.7M-0.7,0.7L0.7,-0.7","M-0.7,-0.7L0.7,0.7M-0.7,0.7L0.7,-0.7","M1.1,0A1.1,1.1,0,1,1,-1.1,0A1.1,1.1,0,1,1,1.1,0Z"]}, "legend": {"title": null, "orient": "none", "legendX": 6, "legendY": 4}}
   }},
  {"data": {"name": "p3"}, "transform": [{"filter": "datum.set === 'Fit'"}],
   "mark": {"type": "line", "color": "#000000", "strokeWidth": 1.3},
   "encoding": {
    "x": {"field": "target", "type": "quantitative", "axis": {"orient": "top", "values": [0,0.5,1,1.5,2,2.5], "labels": false, "grid": false, "title": null}},
    "y": {"field": "output", "type": "quantitative", "axis": {"orient": "right", "values": [0,0.5,1,1.5,2,2.5,3], "labels": false, "grid": false, "title": null}}
   }},
  {"data": {"values": [{"title": "Two-phase"}]},
   "mark": {"type": "rect", "fill": "white", "stroke": "#41798F", "strokeWidth": 1.5},
   "encoding": {"x": {"datum": 0.751, "type": "quantitative", "axis": null}, "x2": {"datum": 1.465}, "y": {"datum": 3.121, "type": "quantitative", "axis": null}, "y2": {"datum": 2.811}}},
  {"data": {"values": [{"title": "Two-phase"}]},
   "mark": {"type": "text", "font": "Noto Sans", "fontSize": 18, "color": "#111111", "align": "center", "baseline": "middle"},
   "encoding": {"x": {"datum": 1.107, "type": "quantitative", "axis": null}, "y": {"datum": 2.966, "type": "quantitative", "axis": null}, "text": {"field": "title"}}}
 ],
 "resolve": {"axis": {"x": "independent", "y": "independent"}}
},
{
 "width": 406, "height": 334,
 "layer": [
  {"data": {"name": "p4"}, "transform": [{"filter": "datum.set !== 'Fit'"}],
   "mark": {"type": "point", "filled": false, "size": 49, "strokeWidth": 1.3, "opacity": 1},
   "encoding": {
    "x": {"field": "target", "type": "quantitative", "scale": {"domain": [0, 2.5], "nice": false, "zero": false}, "axis": {"orient": "bottom", "values": [0,0.5,1,1.5,2,2.5], "title": "Target"}},
    "y": {"field": "output", "type": "quantitative", "scale": {"domain": [0, 3], "nice": false, "zero": false}, "axis": {"orient": "left", "values": [0,0.5,1,1.5,2,2.5,3], "title": "Output = Target + 0.15"}},
    "color": {"field": "set", "type": "nominal", "scale": {"domain": ["Fit","Training Set","Validation Set","Test Set"], "range": ["#000000","#0000FF","#00DD00","#FF3030"]}, "legend": {"title": null, "orient": "none", "legendX": 293, "legendY": 267, "encode": {"symbols": {"update": {"strokeWidth": {"signal": "datum.value === 'Fit' ? 1.6 : 1.3"}}}}}},
    "shape": {"field": "set", "type": "nominal", "scale": {"domain": ["Fit","Training Set","Validation Set","Test Set"], "range": ["M-4,0H4","M-1,0H1M0,-1V1M-0.7,-0.7L0.7,0.7M-0.7,0.7L0.7,-0.7","M-0.7,-0.7L0.7,0.7M-0.7,0.7L0.7,-0.7","M1.1,0A1.1,1.1,0,1,1,-1.1,0A1.1,1.1,0,1,1,1.1,0Z"]}, "legend": {"title": null, "orient": "none", "legendX": 293, "legendY": 267}}
   }},
  {"data": {"name": "p4"}, "transform": [{"filter": "datum.set === 'Fit'"}],
   "mark": {"type": "line", "color": "#000000", "strokeWidth": 1.3},
   "encoding": {
    "x": {"field": "target", "type": "quantitative", "axis": {"orient": "top", "values": [0,0.5,1,1.5,2,2.5], "labels": false, "grid": false, "title": null}},
    "y": {"field": "output", "type": "quantitative", "axis": {"orient": "right", "values": [0,0.5,1,1.5,2,2.5,3], "labels": false, "grid": false, "title": null}}
   }},
  {"data": {"values": [{"title": "Two-phase to the ground"}]},
   "mark": {"type": "rect", "fill": "white", "stroke": "#41798F", "strokeWidth": 1.5},
   "encoding": {"x": {"datum": 0.074, "type": "quantitative", "axis": null}, "x2": {"datum": 1.494}, "y": {"datum": 3.165, "type": "quantitative", "axis": null}, "y2": {"datum": 2.86}}},
  {"data": {"values": [{"title": "Two-phase to the ground"}]},
   "mark": {"type": "text", "font": "Noto Sans", "fontSize": 18, "color": "#111111", "align": "center", "baseline": "middle"},
   "encoding": {"x": {"datum": 0.784, "type": "quantitative", "axis": null}, "y": {"datum": 3.013, "type": "quantitative", "axis": null}, "text": {"field": "title"}}}
 ],
 "resolve": {"axis": {"x": "independent", "y": "independent"}}
}
],
"resolve": {"scale": {"x": "independent", "y": "independent", "color": "independent", "shape": "independent"}, "legend": {"color": "independent", "shape": "independent"}, "axis": {"x": "independent", "y": "independent"}}
}
